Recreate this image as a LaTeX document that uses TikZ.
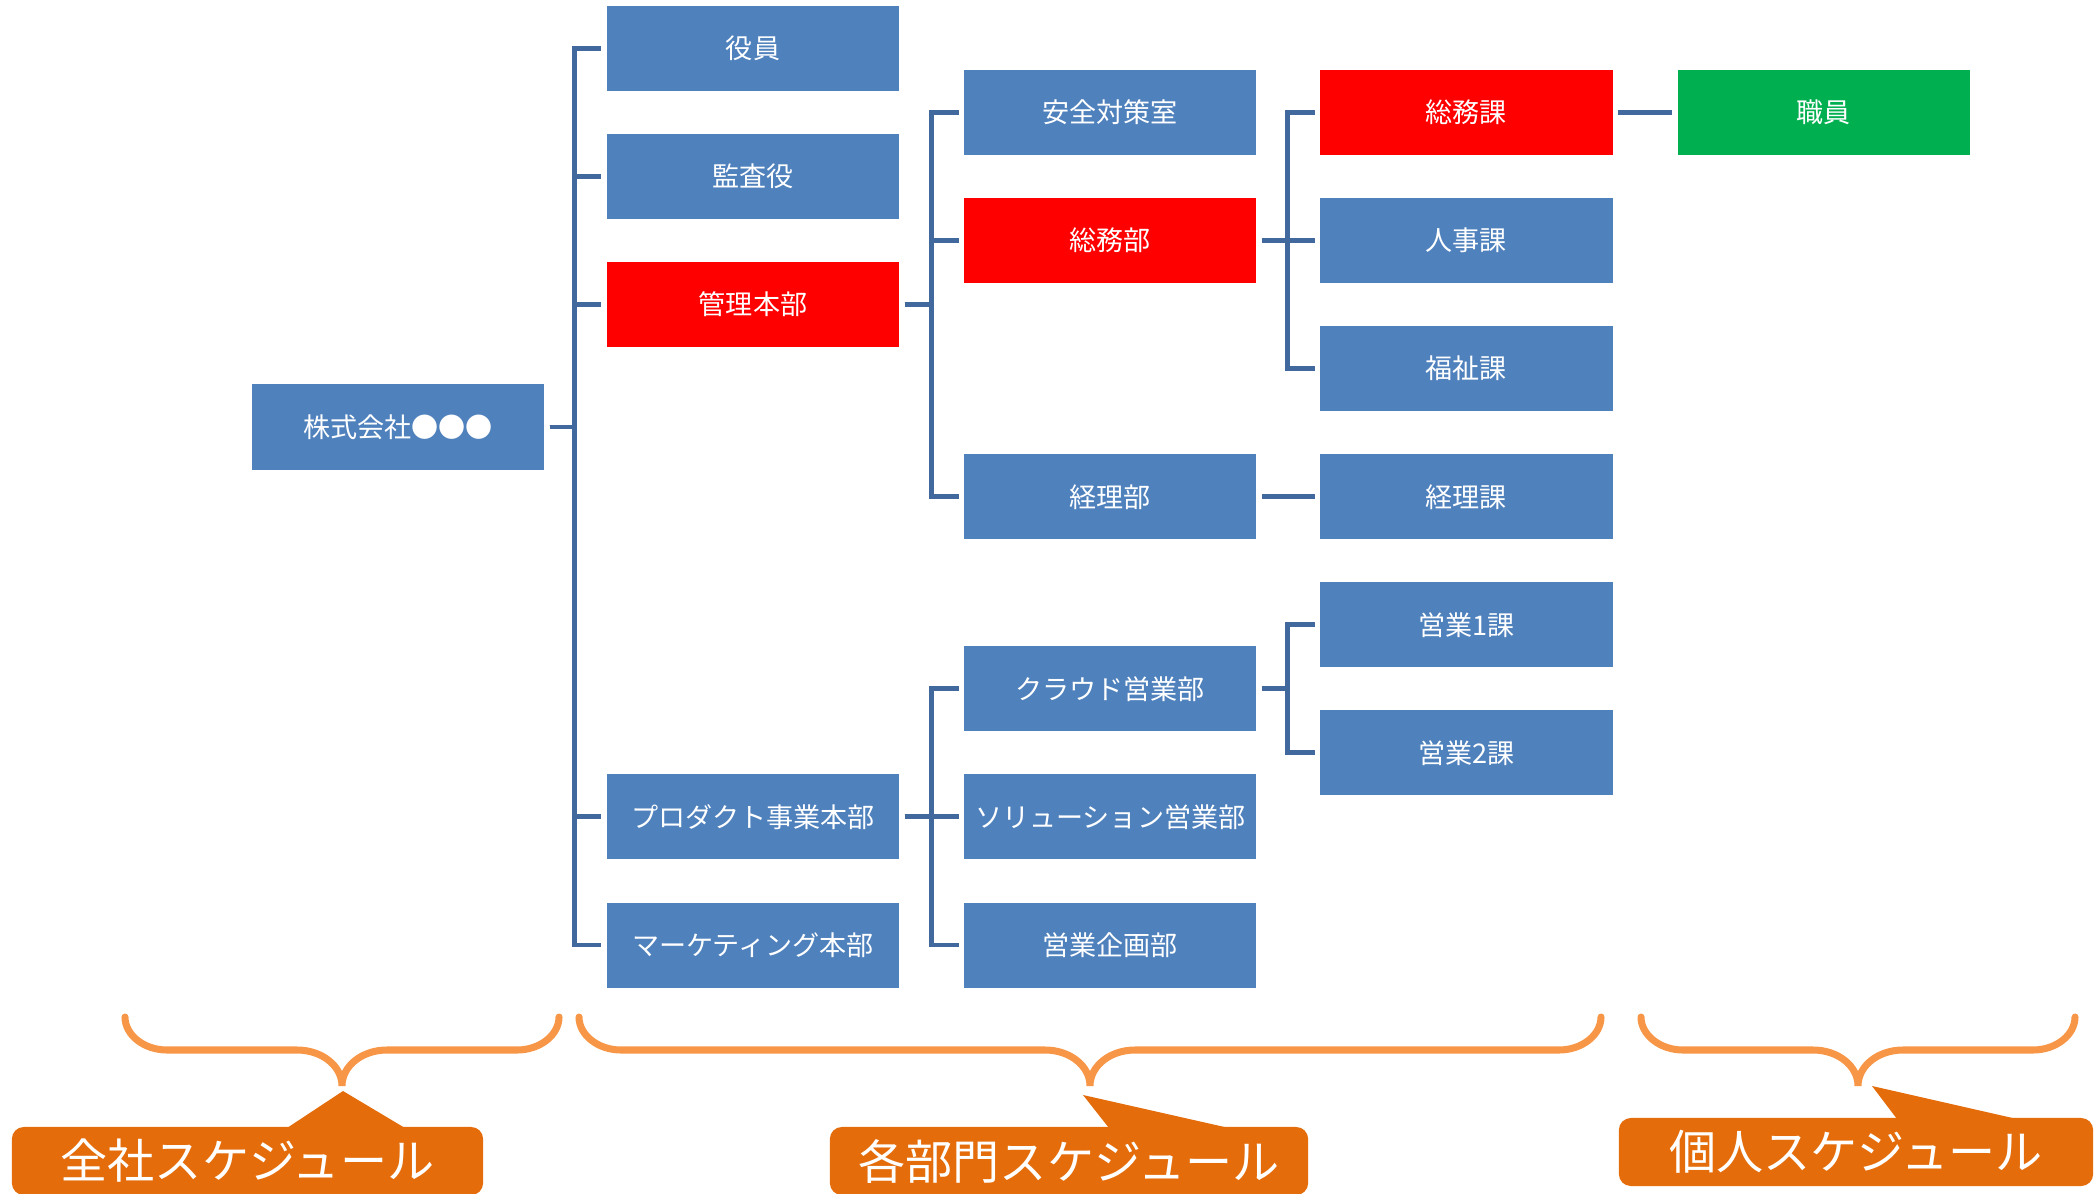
\documentclass[tikz,border=0pt]{standalone}
\usepackage{fontspec}
\setmainfont{Noto Sans CJK JP}
\usetikzlibrary{positioning}

\definecolor{boxblue}{HTML}{4F81BD}
\definecolor{linkblue}{HTML}{41699E}
\definecolor{bracecol}{HTML}{F79646}
\definecolor{callcol}{HTML}{E46C0A}
\definecolor{greenbox}{HTML}{00B050}

\tikzset{
  box/.style={fill=boxblue, text=white, minimum width=2.92cm, minimum height=0.85cm,
    inner sep=0pt, outer sep=0pt, font=\fontsize{7.7pt}{9pt}\selectfont},
  link/.style={draw=linkblue, line width=1.4pt, shorten <=0.055cm, shorten >=0.055cm},
  brace/.style={draw=bracecol, line width=2pt, line cap=round},
  callout/.style={fill=callcol, text=white, rounded corners=0.12cm, minimum width=4.71cm,
    minimum height=0.68cm, inner sep=0pt, outer sep=0pt, font=\fontsize{13.4pt}{15pt}\selectfont}
}

% curly brace from x=#1 to x=#2
\newcommand{\schedbrace}[2]{%
  \pgfmathsetmacro{\bmid}{(#1+#2)/2}
  \draw[brace] (#1,1017) .. controls (#1,1035) and (#1+19,1050) .. (#1+42,1050)
    -- (\bmid-45,1050) .. controls (\bmid-20,1050) and (\bmid,1066) .. (\bmid,1086)
    .. controls (\bmid,1066) and (\bmid+20,1050) .. (\bmid+45,1050)
    -- (#2-42,1050) .. controls (#2-19,1050) and (#2,1035) .. (#2,1017);
}

\begin{document}
\begin{tikzpicture}[x=0.01cm, y=-0.01cm]
\useasboundingbox (0,0) rectangle (2094,1194);

% company
\node[box](kaisha) at (398,427){株式会社●●●};

% first level
\node[box](yakuin) at (753,48.5){役員};
\node[box, below = 0.43cm of yakuin](kansa){監査役};
\node[box, fill=red, below = 0.43cm of kansa](kanri){管理本部};
\node[box, below = 4.27cm of kanri](product){プロダクト事業本部};
\node[box, below = 0.43cm of product](marketing){マーケティング本部};

% second level
\node[box, right = 0.65cm of yakuin, yshift=-0.64cm](anzen){安全対策室};
\node[box, fill=red, below = 0.43cm of anzen](soumubu){総務部};
\node[box, below = 1.71cm of soumubu](keiribu){経理部};
\node[box, below = 1.07cm of keiribu](cloud){クラウド営業部};
\node[box, below = 0.43cm of cloud](solution){ソリューション営業部};
\node[box, below = 0.43cm of solution](kikaku){営業企画部};

% third level
\node[box, fill=red, right = 0.64cm of anzen](soumuka){総務課};
\node[box, right = 0.64cm of soumubu](jinji){人事課};
\node[box, below = 0.43cm of jinji](fukushi){福祉課};
\node[box, right = 0.64cm of keiribu](keirika){経理課};
\node[box, right = 0.64cm of cloud, yshift=0.64cm](eigyo1){営業1課};
\node[box, below = 0.43cm of eigyo1](eigyo2){営業2課};

% staff
\node[box, fill=greenbox, right = 0.65cm of soumuka](shokuin){職員};

% connectors
\foreach \n in {yakuin,kansa,kanri,product,marketing}
  \draw[link] (kaisha.east) -- ++(30,0) |- (\n.west);
\foreach \n in {anzen,soumubu,keiribu}
  \draw[link] (kanri.east) -- ++(32,0) |- (\n.west);
\foreach \n in {cloud,solution,kikaku}
  \draw[link] (product.east) -- ++(32,0) |- (\n.west);
\foreach \n in {soumuka,jinji,fukushi}
  \draw[link] (soumubu.east) -- ++(31,0) |- (\n.west);
\foreach \n in {eigyo1,eigyo2}
  \draw[link] (cloud.east) -- ++(31,0) |- (\n.west);
\draw[link] (keiribu) -- (keirika);
\draw[link] (soumuka) -- (shokuin);

% braces
\schedbrace{125}{559}
\schedbrace{579}{1601}
\schedbrace{1641}{2075}

% callouts
\node[callout](zensha) at (247.5,1161){全社スケジュール};
\fill[callcol] (287,1128) -- (343,1091) -- (405,1128) -- cycle;
\node[callout, minimum width=4.78cm](bumon) at (1069,1161){各部門スケジュール};
\fill[callcol] (1109,1128) -- (1083,1095) -- (1229,1128) -- cycle;
\node[callout, minimum width=4.74cm](kojin) at (1856,1152){個人スケジュール};
\fill[callcol] (1897,1119) -- (1872,1086) -- (2017,1119) -- cycle;
\end{tikzpicture}
\end{document}
